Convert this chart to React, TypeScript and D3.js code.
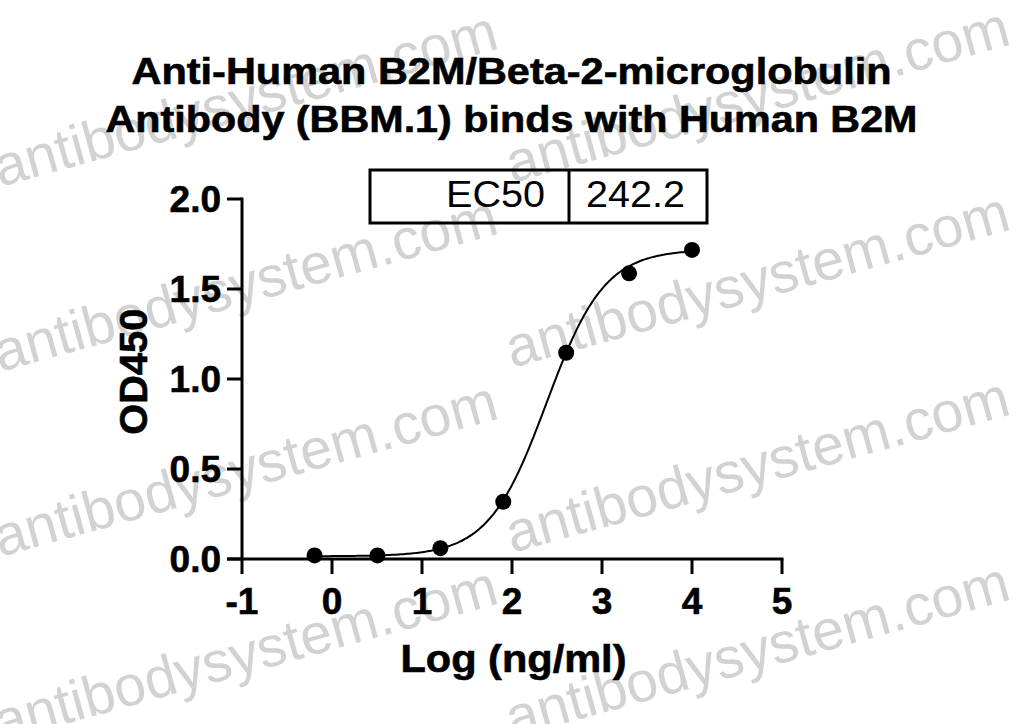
import React from "react";
import * as d3 from "d3";

// ---- data ----
const titleLines = [
  "Anti-Human B2M/Beta-2-microglobulin",
  "Antibody (BBM.1) binds with Human B2M",
];
const logConc = [-0.194, 0.505, 1.204, 1.903, 2.602, 3.301, 4.0];
const od450 = [0.02, 0.02, 0.06, 0.318, 1.146, 1.587, 1.717];
const xTicks = [-1, 0, 1, 2, 3, 4, 5];
const yTicks = [0, 0.5, 1.0, 1.5, 2.0];
const yTickLabels = ["0.0", "0.5", "1.0", "1.5", "2.0"];
const ec50Label = "EC50";
const ec50Value = 242.2;
// 4PL fit parameters
const fitBottom = 0.015;
const fitTop = 1.72;
const fitHill = 1.35;
const watermarkText = "antibodysystem.com";
const watermarkColumns = [0, 512];
const watermarkRows = [187, 372, 557, 742];

const W = 1023;
const H = 724;
const FONT = "'Liberation Sans', Arial, Helvetica, sans-serif";

export default function App() {
  const x = d3.scaleLinear().domain([-1, 5]).range([242, 782]);
  const y = d3.scaleLinear().domain([0, 2]).range([559, 199]);

  const logEC50 = Math.log10(ec50Value);
  const fit = (lx: number) =>
    fitBottom + (fitTop - fitBottom) / (1 + Math.pow(10, fitHill * (logEC50 - lx)));
  const xmin = d3.min(logConc) as number;
  const xmax = d3.max(logConc) as number;
  const curvePts = d3.range(0, 201).map((i) => {
    const lx = xmin + ((xmax - xmin) * i) / 200;
    return [lx, fit(lx)] as [number, number];
  });
  const line = d3
    .line<[number, number]>()
    .x((d) => x(d[0]))
    .y((d) => y(d[1]))
    .curve(d3.curveMonotoneX);

  const x0 = x(-1);
  const x1 = x(5);
  const y0 = y(0);
  const yTop = y(2);

  return (
    <svg
      width={W}
      height={H}
      viewBox={`0 0 ${W} ${H}`}
      style={{ position: "absolute", left: 0, top: 0, background: "#fff" }}
      fontFamily={FONT}
    >
      <rect x={0} y={0} width={W} height={H} fill="#fff" />
      {/* watermarks */}
      <g fill="#d2d2d2" fontSize={57}>
        {watermarkRows.map((ry, ri) =>
          watermarkColumns.map((cx, ci) => (
            <text
              key={`${ri}-${ci}`}
              x={0}
              y={0}
              transform={`translate(${cx},${ry - ci * 4}) rotate(-15.5)`}
            >
              {watermarkText}
            </text>
          ))
        )}
      </g>

      {/* title */}
      <g fontWeight="bold" fontSize={37} textAnchor="middle" fill="#000" stroke="#000" strokeWidth={0.6}>
        <text x={511.5} y={84} textLength={760} lengthAdjust="spacingAndGlyphs">
          {titleLines[0]}
        </text>
        <text x={511.5} y={131.7} textLength={812} lengthAdjust="spacingAndGlyphs">
          {titleLines[1]}
        </text>
      </g>

      {/* EC50 table */}
      <g>
        <rect x={370} y={170} width={337} height={53} fill="none" stroke="#000" strokeWidth={3} />
        <line x1={569} x2={569} y1={170} y2={223} stroke="#000" strokeWidth={3} />
        <text x={545} y={206.5} fontSize={37} textAnchor="end" fill="#000" textLength={99} lengthAdjust="spacingAndGlyphs">
          {ec50Label}
        </text>
        <text x={586} y={206.5} fontSize={37} textAnchor="start" fill="#000" textLength={99} lengthAdjust="spacingAndGlyphs">
          {ec50Value.toFixed(1)}
        </text>
      </g>

      {/* axes */}
      <g stroke="#000" strokeWidth={3} fill="none">
        <line x1={x0} x2={x0} y1={yTop - 1.5} y2={y0} />
        <line x1={x0 - 15} x2={x1 + 1.5} y1={y0} y2={y0} />
        {yTicks.map((t) => (
          <line key={`yt${t}`} x1={x0 - 15} x2={x0} y1={y(t)} y2={y(t)} />
        ))}
        {xTicks.map((t) => (
          <line key={`xt${t}`} x1={x(t)} x2={x(t)} y1={y0} y2={y0 + 15} />
        ))}
      </g>
      <g fontWeight="bold" fontSize={37} fill="#000" stroke="#000" strokeWidth={0.6}>
        {yTicks.map((t, i) => (
          <text key={`yl${t}`} x={221} y={y(t) + 13.3} textAnchor="end">
            {yTickLabels[i]}
          </text>
        ))}
        {xTicks.map((t) => (
          <text key={`xl${t}`} x={x(t)} y={613.5} textAnchor="middle">
            {t}
          </text>
        ))}
      </g>

      {/* axis titles */}
      <g fontWeight="bold" fontSize={38} fill="#000" stroke="#000" strokeWidth={0.6}>
        <text x={513.5} y={671.7} textAnchor="middle" textLength={226} lengthAdjust="spacingAndGlyphs">
          Log (ng/ml)
        </text>
        <text
          x={0}
          y={0}
          textAnchor="middle"
          transform={`translate(146.5,371.7) rotate(-90)`}
          textLength={126}
          lengthAdjust="spacingAndGlyphs"
        >
          OD450
        </text>
      </g>

      {/* curve */}
      <path d={line(curvePts) || ""} fill="none" stroke="#000" strokeWidth={2} />
      {/* points */}
      <g fill="#000">
        {logConc.map((c, i) => (
          <circle key={`p${i}`} cx={x(c)} cy={y(od450[i])} r={8} />
        ))}
      </g>
    </svg>
  );
}
